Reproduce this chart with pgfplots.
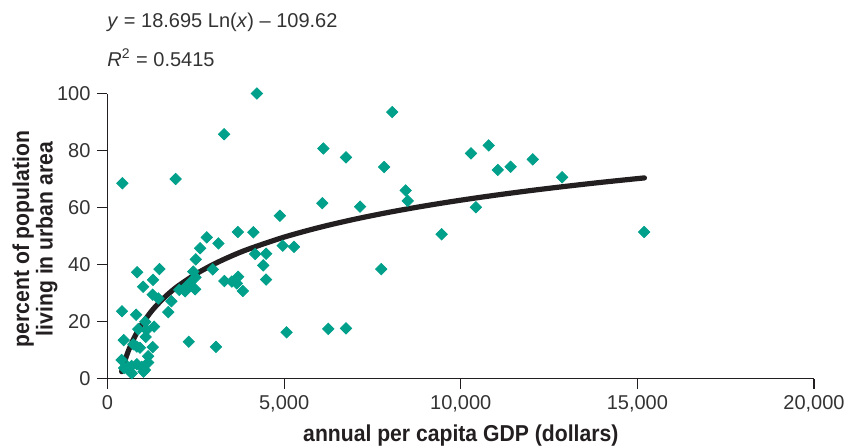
\documentclass[border=0pt]{standalone}
\usepackage{fontspec}
\setmainfont{Liberation Sans}
\newfontfamily\labelfont{Liberation Sans}[FakeStretch=0.92]
\usepackage{pgfplots}
\pgfplotsset{compat=1.18}
\definecolor{markteal}{HTML}{00A08A}
\definecolor{linedark}{HTML}{231F20}
\definecolor{txtgray}{HTML}{333333}
\pgfplotstableread{
x y
4230 100
8060 93.5
3300 85.7
6110 80.7
6750 77.6
7830 74.2
10290 79.0
10790 81.8
11050 73.2
11410 74.3
12040 76.9
12870 70.6
8440 66.0
8500 62.3
6080 61.5
7150 60.3
10430 60.1
4880 57.1
9460 50.6
15190 51.4
4960 46.6
5280 46.2
7750 38.4
5070 16.2
6250 17.4
6750 17.6
420 68.5
1930 70.0
2810 49.5
3140 47.4
3690 51.4
4130 51.3
2620 45.7
2500 41.8
4180 43.7
4490 43.8
4410 39.7
4490 34.7
2980 38.3
2430 37.5
2490 35.5
2320 33.4
2150 31.3
2480 31.3
2030 31.1
2200 30.6
3310 34.2
3520 34.0
3700 35.7
3660 33.4
3830 30.7
2300 12.9
3070 11.1
840 37.3
1470 38.4
1290 34.6
1010 32.2
1280 29.4
1440 28.1
1810 27.1
410 23.6
810 22.4
1720 23.3
1070 19.9
870 17.3
1110 17.0
1320 18.2
1080 14.6
460 13.5
730 12.0
920 10.8
1280 11.0
830 11.2
1150 7.8
1150 5.6
400 6.5
470 3.7
570 4.1
680 4.4
690 1.8
640 2.4
830 5.0
970 4.1
1020 2.4
1060 3.0
}\scatterdata
\pgfplotstableread{
x y
400 2.39
500 6.56
600 9.97
700 12.85
800 15.35
900 17.55
1000 19.52
1250 23.69
1500 27.10
1750 29.98
2000 32.48
2500 36.65
3000 40.06
3500 42.94
4000 45.44
5000 49.61
6000 53.02
7000 55.90
8000 58.40
9000 60.60
10000 62.57
11000 64.35
12000 65.98
13000 67.47
14000 68.86
15200 70.39
}\fitdata
\begin{document}
\begin{tikzpicture}
\useasboundingbox (0,0) rectangle (424pt,223.5pt);
\begin{axis}[
  name=ax,
  at={(53.75pt,34.25pt)}, anchor=south west,
  scale only axis, width=353.25pt, height=142.5pt,
  xmin=0, xmax=20000, ymin=0, ymax=100,
  axis x line*=bottom, axis y line*=left,
  axis line style={line width=0.6pt, color=linedark},
  tick align=outside, major tick length=5pt,
  tick style={line width=0.6pt, color=linedark},
  scaled x ticks=false,
  xtick={0,5000,10000,15000,20000},
  xticklabels={0,{5,000},{10,000},{15,000},{20,000}},
  ytick={0,20,40,60,80,100},
  /pgf/number format/assume math mode=true,
  tick label style={font=\fontsize{10}{12}\selectfont, text=txtgray},
  clip=false,
]
\addplot[linedark, line width=2.6pt, line cap=round, smooth, no markers] table[x=x,y=y] {\fitdata};
\addplot[only marks, mark=square*, mark size=2pt, mark options={rotate=45, fill=markteal, draw=markteal}] table[x=x,y=y] {\scatterdata};
\end{axis}
\node[anchor=base west, inner sep=0pt, font=\fontsize{10}{12}\selectfont, text=txtgray] at (53.5pt,210pt) {\textit{y} = 18.695 Ln(\textit{x}) – 109.62};
\node[anchor=base west, inner sep=0pt, font=\fontsize{10}{12}\selectfont, text=txtgray] at (53.5pt,190.5pt) {\textit{R}\textsuperscript{2} = 0.5415};
\node[anchor=base, inner sep=0pt, font=\labelfont\bfseries\fontsize{11.5}{12}\selectfont, text=linedark] at (230.4pt,2.6pt) {annual per capita GDP (dollars)};
\node[rotate=90, align=center, inner sep=0pt, font=\labelfont\bfseries\fontsize{11.5}{10}\selectfont, text=linedark] at (17.5pt,104pt) {percent of population\\living in urban area};
\end{tikzpicture}
\end{document}
